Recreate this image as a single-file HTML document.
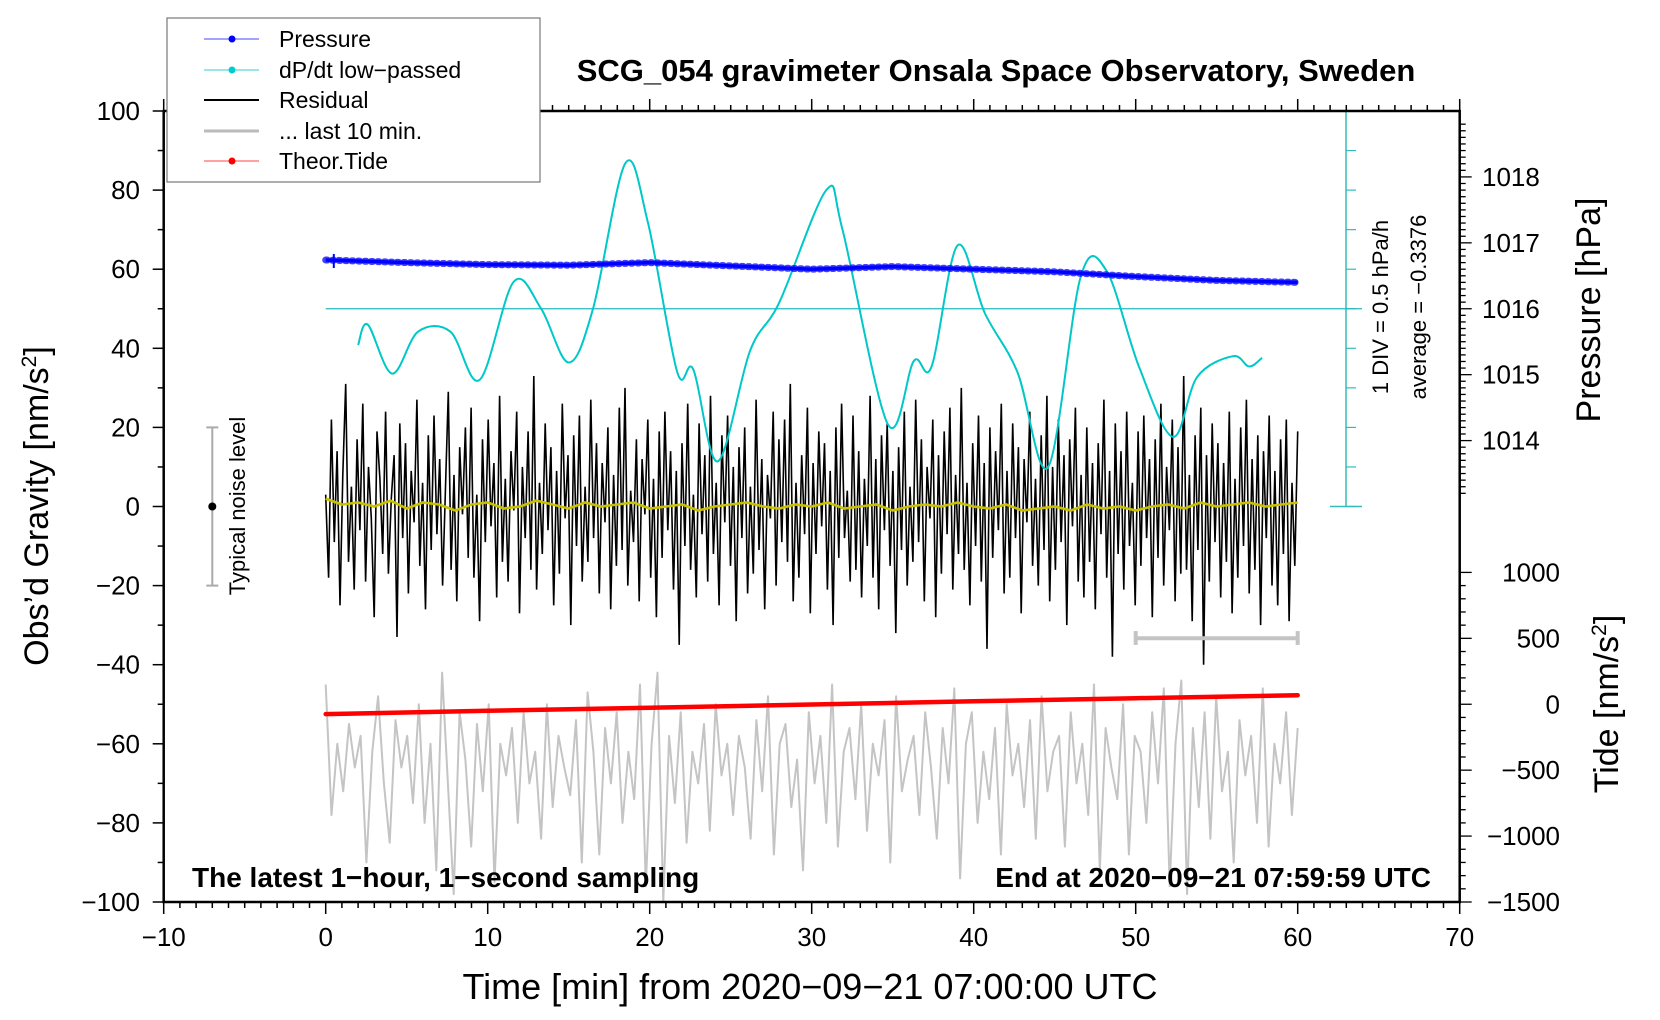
<!DOCTYPE html>
<html><head><meta charset="utf-8"><title>SCG_054 gravimeter</title>
<style>
html,body{margin:0;padding:0;background:#fff;}
svg{display:block;font-family:"Liberation Sans",Arial,sans-serif;}
</style></head>
<body>
<svg id="chart" width="1660" height="1020" viewBox="0 0 1660 1020" xmlns="http://www.w3.org/2000/svg">
<rect x="0" y="0" width="1660" height="1020" fill="#fff"/>
<g id="marks"></g>
<g id="axes"></g>
<text x="996" y="81" text-anchor="middle" font-size="31" font-weight="bold">SCG_054 gravimeter Onsala Space Observatory, Sweden</text>
<text x="192" y="887" font-size="28" font-weight="bold">The latest 1−hour, 1−second sampling</text>
<text x="1431" y="887" text-anchor="end" font-size="28" font-weight="bold">End at 2020−09−21 07:59:59 UTC</text>
<text x="810" y="999" text-anchor="middle" font-size="36">Time [min] from 2020−09−21 07:00:00 UTC</text>
<text transform="translate(48,506) rotate(-90)" text-anchor="middle" font-size="34">Obs’d Gravity [nm/s<tspan font-size="21" dy="-12">2</tspan><tspan dy="12">]</tspan></text>
<text transform="translate(1600,310) rotate(-90)" text-anchor="middle" font-size="34">Pressure [hPa]</text>
<text transform="translate(1618,704) rotate(-90)" text-anchor="middle" font-size="34">Tide [nm/s<tspan font-size="21" dy="-12">2</tspan><tspan dy="12">]</tspan></text>
<text transform="translate(1388,307) rotate(-90)" text-anchor="middle" font-size="22">1 DIV = 0.5 hPa/h</text>
<text transform="translate(1426,307) rotate(-90)" text-anchor="middle" font-size="22">average = −0.3376</text>
<text transform="translate(245,506) rotate(-90)" text-anchor="middle" font-size="22">Typical noise level</text>
<g>
<rect x="167" y="18" width="373" height="164" fill="#fff" stroke="#777" stroke-width="1.2"/>
<g><line x1="204" y1="39" x2="259" y2="39" stroke="#44f" stroke-width="1"/><circle cx="232" cy="39" r="3.5" fill="#00f"/><text x="279" y="47" font-size="23">Pressure</text></g>
<g><line x1="204" y1="70" x2="259" y2="70" stroke="#3cc" stroke-width="1"/><circle cx="232" cy="70" r="3.5" fill="#0cc"/><text x="279" y="78" font-size="23">dP/dt low−passed</text></g>
<g><line x1="204" y1="100" x2="259" y2="100" stroke="#000" stroke-width="2"/><text x="279" y="108" font-size="23">Residual</text></g>
<g><line x1="204" y1="131" x2="259" y2="131" stroke="#bbb" stroke-width="3"/><text x="279" y="139" font-size="23">... last 10 min.</text></g>
<g><line x1="204" y1="161" x2="259" y2="161" stroke="#f44" stroke-width="1"/><circle cx="232" cy="161" r="3.5" fill="#f00"/><text x="279" y="169" font-size="23">Theor.Tide</text></g>
</g>
</svg>
<script>
// ---- data ----
const residual = [3,-18,22,-9,14,-25,8,31,-14,5,-21,17,-6,26,-19,10,-3,-28,19,7,-12,24,-17,2,13,-33,21,-8,16,-22,9,-4,27,-15,6,-26,18,-11,23,-7,12,-20,4,29,-16,8,-24,15,-2,20,-13,25,-18,3,-29,17,-9,22,-5,11,-23,28,-14,7,-19,14,-1,24,-27,10,-8,19,-16,33,-21,6,-12,21,-6,15,-25,9,-17,26,-3,13,-30,18,-10,23,-19,5,-14,27,-8,16,-22,11,-4,20,-26,8,-15,25,-11,30,-20,4,-9,17,-24,12,-2,22,-18,7,-28,19,-13,24,-6,14,-21,9,-35,16,-10,26,-16,3,-23,21,-7,13,-19,28,-12,6,-25,18,-4,23,-15,10,-29,15,-8,20,-22,5,-17,27,-11,12,-26,8,-3,24,-20,17,-9,22,-14,31,-24,6,-18,13,-7,25,-27,11,-12,19,-5,16,-21,9,-30,20,-13,26,-8,4,-19,23,-16,14,-23,7,-10,28,-18,12,-26,18,-6,21,-15,9,-32,15,-11,24,-20,5,-14,27,-9,17,-24,10,-3,22,-28,13,-17,19,-7,25,-21,8,-12,30,-16,6,-25,16,-10,23,-19,11,-36,20,-13,14,-6,26,-22,9,-18,21,-8,15,-27,12,-4,24,-15,7,-20,18,-11,28,-24,10,-16,22,-9,13,-30,17,-5,25,-19,8,-23,20,-14,11,-26,16,-7,27,-18,9,-38,21,-12,14,-21,24,-10,6,-25,19,-15,23,-8,12,-28,17,-13,26,-20,10,-6,22,-24,15,-17,33,-16,8,-29,18,-11,25,-40,13,-19,21,-9,16,-23,11,-14,24,-27,7,-18,20,-10,27,-22,12,-16,18,-30,14,-8,23,-20,9,-25,17,-12,22,-29,6,-15,19];
const smoothRes = [2,0.5,1,0,1.5,-0.5,1,0.5,-1,0.5,1,-0.5,0,1.5,0.5,-0.5,1,0,0.5,1,-0.5,0,0.5,-1,0,0.5,1,0,-0.5,0.5,0,1,-0.5,0,0.5,-1,0,0.5,0,1,0,-0.5,0.5,-1,-0.5,0,-1,0.5,-0.5,0,-1,0,0.5,-0.5,1,0,0.5,1,0,0.5,1];
const lastTenMin = [-45,-78,-60,-72,-55,-66,-58,-90,-62,-48,-70,-85,-54,-66,-58,-75,-50,-80,-60,-92,-42,-70,-98,-52,-64,-86,-55,-72,-50,-95,-60,-68,-56,-80,-52,-70,-62,-84,-50,-76,-58,-66,-73,-54,-90,-47,-62,-88,-56,-70,-52,-80,-62,-74,-45,-96,-60,-42,-100,-58,-75,-52,-85,-62,-70,-55,-82,-50,-68,-60,-78,-58,-66,-84,-54,-72,-48,-88,-60,-55,-76,-64,-92,-52,-70,-58,-80,-45,-86,-62,-56,-74,-50,-82,-60,-68,-54,-90,-48,-72,-64,-58,-78,-52,-66,-84,-56,-70,-46,-94,-60,-52,-80,-62,-74,-56,-88,-50,-68,-60,-76,-54,-84,-48,-72,-62,-58,-86,-52,-70,-60,-78,-45,-92,-56,-66,-74,-50,-88,-58,-62,-80,-52,-70,-46,-96,-60,-44,-98,-56,-76,-52,-84,-48,-72,-62,-90,-54,-68,-58,-80,-46,-86,-60,-70,-52,-78,-56];
const pressureT = [0,5,10,15,20,25,30,35,40,45,50,55,60];
const pressureHPa = [1016.74,1016.70,1016.67,1016.66,1016.70,1016.65,1016.60,1016.64,1016.60,1016.56,1016.49,1016.43,1016.40];
const dpdtT = [2.0,2.6,4.1,5.7,7.7,9.5,11.6,13.3,15.0,16.5,18.5,19.9,21.7,22.7,24.2,26.2,28.0,30.9,31.9,34.7,36.3,37.4,39.0,40.7,42.7,44.6,46.6,48.2,50.2,52.3,53.8,56.0,57.0,57.8];
const dpdtDev = [-0.46,-0.20,-0.82,-0.29,-0.29,-0.90,0.34,0,-0.68,0,1.84,1.08,-0.80,-0.77,-1.93,-0.53,0.08,1.5,1.0,-1.46,-0.66,-0.73,0.8,-0.06,-0.8,-2.0,0.4,0.48,-0.73,-1.62,-0.86,-0.6,-0.73,-0.62];
const tideT = [0,10,20,30,40,50,60];
const tideVal = [-75,-50,-26,-2,22,46,69];
const xTicks = [-10,0,10,20,30,40,50,60,70];
const yTicks = [100,80,60,40,20,0,-20,-40,-60,-80,-100];
const pTicks = [1018,1017,1016,1015,1014];
const tideTicks = [1000,500,0,-500,-1000,-1500];

// ---- scales ----
const X = t => 325.7 + t * 16.2;
const Y = g => 506.5 - g * 3.955;
const YP = p => Y(50 + (p - 1016) * 16.667);
const YT = v => Y(-50 + v / 30);
const YD = d => Y(50 + d * 20);
const NS = 'http://www.w3.org/2000/svg';
const marks = document.getElementById('marks');
const axes = document.getElementById('axes');
function mk(tag, attrs, parent) {
  const e = document.createElementNS(NS, tag);
  for (const k in attrs) e.setAttribute(k, attrs[k]);
  parent.appendChild(e); return e;
}

// cyan dP/dt axis and zero line
const cyanAxis = mk('g', {}, marks);


mk('line', {x1: 1346, y1: Y(100), x2: 1346, y2: Y(0), stroke: '#3bb', 'stroke-width': 1.5}, cyanAxis);
for (let g = 0; g <= 100; g += 10) {
  mk('line', {x1: 1346, y1: Y(g), x2: 1356, y2: Y(g), stroke: '#3bb', 'stroke-width': 1.2}, cyanAxis);
}
mk('line', {x1: 1330, y1: Y(0), x2: 1362, y2: Y(0), stroke: '#3bb', 'stroke-width': 1.5}, cyanAxis);
mk('line', {x1: 1330, y1: Y(100), x2: 1362, y2: Y(100), stroke: '#3bb', 'stroke-width': 1.5}, cyanAxis);
const zl = mk('line', {x1: X(0), y1: YD(0), x2: 1362, y2: YD(0), stroke: '#2bb', 'stroke-width': 1.3}, marks);



// gray last 10 min
let pts = lastTenMin.map((v, i) => X(i * 60 / (lastTenMin.length - 1)).toFixed(1) + ',' + Y(v).toFixed(1)).join(' ');
const gl = mk('polyline', {points: pts, fill: 'none', stroke: '#c4c4c4', 'stroke-width': 2, 'stroke-linejoin': 'round'}, marks);



// residual
pts = residual.map((v, i) => X(i * 60 / (residual.length - 1)).toFixed(1) + ',' + Y(v).toFixed(1)).join(' ');
const rl = mk('polyline', {points: pts, fill: 'none', stroke: '#000', 'stroke-width': 1.6}, marks);



// smoothed residual (yellow)
pts = smoothRes.map((v, i) => X(i * 60 / (smoothRes.length - 1)).toFixed(1) + ',' + Y(v).toFixed(1)).join(' ');
const yl = mk('polyline', {points: pts, fill: 'none', stroke: '#c8c000', 'stroke-width': 2.6}, marks);



// dP/dt cyan curve (smooth)
function smoothPath(xs, ys) {
  let d = 'M' + xs[0] + ',' + ys[0];
  for (let i = 0; i < xs.length - 1; i++) {
    const x0 = xs[Math.max(0, i - 1)], y0 = ys[Math.max(0, i - 1)];
    const x1 = xs[i], y1 = ys[i], x2 = xs[i + 1], y2 = ys[i + 1];
    const x3 = xs[Math.min(xs.length - 1, i + 2)], y3 = ys[Math.min(xs.length - 1, i + 2)];
    d += ' C' + (x1 + (x2 - x0) / 6).toFixed(1) + ',' + (y1 + (y2 - y0) / 6).toFixed(1) + ' ' +
         (x2 - (x3 - x1) / 6).toFixed(1) + ',' + (y2 - (y3 - y1) / 6).toFixed(1) + ' ' + x2.toFixed(1) + ',' + y2.toFixed(1);
  }
  return d;
}
const cp = mk('path', {d: smoothPath(dpdtT.map(X), dpdtDev.map(YD)), fill: 'none', stroke: '#00c8c8', 'stroke-width': 2}, marks);



// pressure (blue dotted band)
const pg = mk('g', {}, marks);


pts = pressureT.map((t, i) => X(t).toFixed(1) + ',' + YP(pressureHPa[i]).toFixed(1)).join(' ');
mk('polyline', {points: pts, fill: 'none', stroke: '#0000ff', 'stroke-width': 3.5, 'stroke-linejoin': 'round'}, pg);
mk('polyline', {points: pts, fill: 'none', stroke: '#0000ff', 'stroke-width': 7, 'stroke-dasharray': '1.5 5', 'stroke-linecap': 'round', opacity: 0.75}, pg);
mk('line', {x1: X(0.5), y1: YP(pressureHPa[0]) - 6, x2: X(0.5), y2: YP(pressureHPa[0]) + 8, stroke: '#00f', 'stroke-width': 2}, pg);

// tide
pts = tideT.map((t, i) => X(t).toFixed(1) + ',' + YT(tideVal[i]).toFixed(1)).join(' ');
const tl = mk('polyline', {points: pts, fill: 'none', stroke: '#ff0000', 'stroke-width': 4.5, 'stroke-linecap': 'round'}, marks);



// 10-minute bar
const tb = mk('g', {stroke: '#c4c4c4', 'stroke-width': 4}, marks);


mk('line', {x1: X(50), y1: Y(-33.3), x2: X(60), y2: Y(-33.3)}, tb);
mk('line', {x1: X(50), y1: Y(-31.5), x2: X(50), y2: Y(-35)}, tb);
mk('line', {x1: X(60), y1: Y(-31.5), x2: X(60), y2: Y(-35)}, tb);

// noise level bar
const nb = mk('g', {stroke: '#aaa', 'stroke-width': 2}, marks);


mk('line', {x1: X(-7), y1: Y(20), x2: X(-7), y2: Y(-20)}, nb);
mk('line', {x1: X(-7) - 6, y1: Y(20), x2: X(-7) + 6, y2: Y(20)}, nb);
mk('line', {x1: X(-7) - 6, y1: Y(-20), x2: X(-7) + 6, y2: Y(-20)}, nb);
mk('circle', {cx: X(-7), cy: Y(0), r: 4, fill: '#000', stroke: 'none'}, nb);

// ---- axes ----
const frame = mk('rect', {x: X(-10), y: Y(100), width: X(70) - X(-10), height: Y(-100) - Y(100), fill: 'none', stroke: '#000', 'stroke-width': 2.5}, axes);


const xa = mk('g', {stroke: '#000', 'stroke-width': 1.5}, axes);


for (let t = -10; t <= 70; t++) {
  const major = t % 10 === 0;
  mk('line', {x1: X(t), y1: Y(-100), x2: X(t), y2: Y(-100) + (major ? 12 : 6)}, xa);
  mk('line', {x1: X(t), y1: Y(100), x2: X(t), y2: Y(100) - (major ? 12 : 6)}, xa);
}
xTicks.forEach(t => {
  const tx = mk('text', {x: X(t), y: 946, 'text-anchor': 'middle', 'font-size': 26, stroke: 'none', fill: '#000'}, xa);
  tx.textContent = String(t).replace('-', '−');
  
  
});
const ya = mk('g', {stroke: '#000', 'stroke-width': 1.5}, axes);


for (let g = -100; g <= 100; g += 10) {
  mk('line', {x1: X(-10), y1: Y(g), x2: X(-10) - (g % 20 === 0 ? 11 : 6), y2: Y(g)}, ya);
}
yTicks.forEach(g => {
  const tx = mk('text', {x: 140, y: Y(g) + 9, 'text-anchor': 'end', 'font-size': 26, stroke: 'none', fill: '#000'}, ya);
  tx.textContent = String(g).replace('-', '−');
  
  
});
const pa = mk('g', {stroke: '#000', 'stroke-width': 1.3}, axes);


for (let p = 1013.2; p <= 1018.9; p += 0.1) {
  const pp = Math.round(p * 10) / 10;
  const major = Math.abs(pp - Math.round(pp)) < 0.01;
  mk('line', {x1: X(70), y1: YP(pp), x2: X(70) + (major ? 12 : 6), y2: YP(pp)}, pa);
}
pTicks.forEach(p => {
  const tx = mk('text', {x: 1482, y: YP(p) + 9, 'font-size': 26, stroke: 'none', fill: '#000'}, pa);
  tx.textContent = String(p);
  
  
});
const ta = mk('g', {stroke: '#000', 'stroke-width': 1.3}, axes);


for (let v = -1500; v <= 1000; v += 100) {
  mk('line', {x1: X(70), y1: YT(v), x2: X(70) + (v % 500 === 0 ? 12 : 6), y2: YT(v)}, ta);
}
tideTicks.forEach(v => {
  const tx = mk('text', {x: 1560, y: YT(v) + 9, 'text-anchor': 'end', 'font-size': 26, stroke: 'none', fill: '#000'}, ta);
  tx.textContent = String(v).replace('-', '−');
  
  
});
</script>
</body></html>
